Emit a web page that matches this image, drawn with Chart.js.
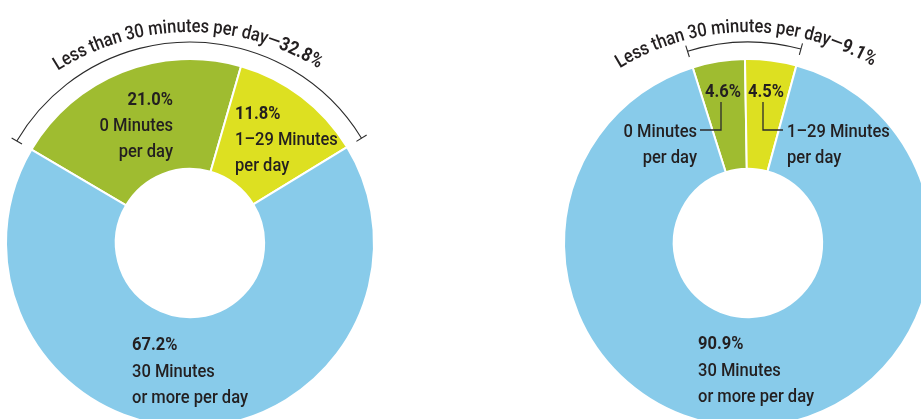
<!DOCTYPE html>
<html>
<head>
<meta charset="utf-8">
<script src="https://cdn.jsdelivr.net/npm/chart.js@4.4.1/dist/chart.umd.min.js"></script>
<style>
    html, body { margin: 0; padding: 0; background: #fff; overflow: hidden; width: 921px; height: 419px; }
    .donut { position: absolute; top: 0; width: 380px; height: 486px; }
    #leftBox { left: 0; }
    #rightBox { left: 558px; }
</style>
</head>
<body>
<div class="donut" id="leftBox"><canvas id="leftChart"></canvas></div>
<div class="donut" id="rightBox"><canvas id="rightChart"></canvas></div>

<script>
// DATA

const categories = ["0 Minutes per day", "1–29 Minutes per day", "30 Minutes or more per day"];
const categoryLines = [["0 Minutes", "per day"], ["1–29 Minutes", "per day"], ["30 Minutes", "or more per day"]];
const leftValues = [21.0, 11.8, 67.2];
const rightValues = [4.6, 4.5, 90.9];
const groupTitle = "Less than 30 minutes per day—";
const sliceColors = ["#9fbc30", "#dde021", "#88cbea"];

// TEXT HELPERS

const textColor = "#231f20";
const fontFamily = "Roboto, 'Liberation Sans', sans-serif";
const squeeze = 0.87;

function setFont(ctx, bold) {
    ctx.font = (bold ? "bold " : "500 ") + "19px " + fontFamily;
}

function drawText(ctx, text, x, y, align, bold) {
    ctx.save();
    setFont(ctx, bold);
    const w = ctx.measureText(text).width * squeeze;
    let x0 = x;
    if (align === "right") x0 = x - w;
    if (align === "center") x0 = x - w / 2;
    ctx.translate(x0, y);
    ctx.scale(squeeze, 1);
    ctx.textAlign = "left";
    ctx.textBaseline = "alphabetic";
    ctx.fillStyle = textColor;
    ctx.fillText(text, 0, 0);
    ctx.restore();
}

function drawArcText(ctx, parts, cx, cy, r, midAngle) {
    const chars = [];
    parts.forEach(p => {
        setFont(ctx, p.bold);
        for (const ch of p.text) {
            chars.push({ ch, bold: p.bold, w: ctx.measureText(ch).width * squeeze });
        }
    });
    let total = 0;
    chars.forEach(c => { total += c.w; });
    let a = midAngle - total / 2 / r;
    chars.forEach(c => {
        const ang = a + c.w / 2 / r;
        ctx.save();
        ctx.translate(cx + r * Math.cos(ang), cy + r * Math.sin(ang));
        ctx.rotate(ang + Math.PI / 2);
        ctx.scale(squeeze, 1);
        setFont(ctx, c.bold);
        ctx.textAlign = "center";
        ctx.textBaseline = "alphabetic";
        ctx.fillStyle = textColor;
        ctx.fillText(c.ch, 0, 0);
        ctx.restore();
        a += c.w / r;
    });
}

// LABEL PLUGIN

const sliceLabels = {
    id: "sliceLabels",
    afterDraw(chart, args, opts) {
        const ctx = chart.ctx;
        const arcs = chart.getDatasetMeta(0).data;
        const values = chart.data.datasets[0].data;
        const cx = arcs[0].x;
        const cy = arcs[0].y;

        // bracket over the under-30 slices
        const a0 = arcs[0].startAngle;
        const a1 = arcs[1].endAngle;
        ctx.save();
        ctx.strokeStyle = "#2b2b2b";
        ctx.lineWidth = 1.1;
        ctx.beginPath();
        ctx.arc(cx, cy, opts.bracketRadius, a0, a1);
        ctx.stroke();
        [a0, a1].forEach(a => {
            ctx.beginPath();
            ctx.moveTo(cx + (opts.bracketRadius - 6) * Math.cos(a), cy + (opts.bracketRadius - 6) * Math.sin(a));
            ctx.lineTo(cx + (opts.bracketRadius + 6) * Math.cos(a), cy + (opts.bracketRadius + 6) * Math.sin(a));
            ctx.stroke();
        });
        ctx.restore();

        // curved group title
        const under = (values[0] + values[1]).toFixed(1) + "%";
        drawArcText(ctx, [{ text: groupTitle, bold: false }, { text: under, bold: true }],
            cx, cy + opts.titleDrop, opts.titleRadius, -90.5 * Math.PI / 180);

        // slice labels
        opts.places.forEach((p, i) => {
            drawText(ctx, values[i].toFixed(1) + "%", cx + p.pctX, cy + p.pctY, p.pctAlign, true);
            categoryLines[i].forEach((line, j) => {
                drawText(ctx, line, cx + p.lineX, cy + p.lineY + j * opts.lineGap, p.lineAlign, false);
            });
            if (p.leader) {
                ctx.save();
                ctx.strokeStyle = "#2b2b2b";
                ctx.lineWidth = 1.3;
                ctx.beginPath();
                p.leader.forEach((pt, k) => {
                    if (k === 0) ctx.moveTo(cx + pt[0], cy + pt[1]);
                    else ctx.lineTo(cx + pt[0], cy + pt[1]);
                });
                ctx.stroke();
                ctx.restore();
            }
        });
    }
};

// BUILD CHARTS

function makeDonut(canvasId, values, rotation, places) {
    return new Chart(document.getElementById(canvasId), {
        type: "doughnut",
        data: {
            labels: categories,
            datasets: [{
                data: values,
                backgroundColor: sliceColors,
                borderColor: "#ffffff",
                borderWidth: 2
            }]
        },
        options: {
            responsive: true,
            maintainAspectRatio: false,
            animation: false,
            rotation: rotation,
            radius: 184,
            cutout: "40.3%",
            layout: { padding: 0 },
            plugins: {
                legend: { display: false },
                tooltip: { enabled: false },
                sliceLabels: {
                    bracketRadius: 201,
                    titleRadius: 245,
                    titleDrop: 34,
                    lineGap: 25.5,
                    places: places
                }
            }
        },
        plugins: [sliceLabels]
    });
}

makeDonut("leftChart", leftValues, -59.5, [
    { pctX: -17, pctY: -138, pctAlign: "right", lineX: -17, lineY: -112, lineAlign: "right" },
    { pctX: 45, pctY: -124, pctAlign: "left", lineX: 45, lineY: -98, lineAlign: "left" },
    { pctX: -58, pctY: 107, pctAlign: "left", lineX: -58, lineY: 134, lineAlign: "left" }
]);

makeDonut("rightChart", rightValues, -17.5, [
    { pctX: -7, pctY: -146, pctAlign: "right", lineX: -51, lineY: -106, lineAlign: "right",
      leader: [[-27, -141], [-27, -113], [-48, -113]] },
    { pctX: 0, pctY: -146, pctAlign: "left", lineX: 39, lineY: -106, lineAlign: "left",
      leader: [[15, -141], [15, -113], [35, -113]] },
    { pctX: -50, pctY: 106, pctAlign: "left", lineX: -50, lineY: 133, lineAlign: "left" }
]);
</script>
</body>
</html>
